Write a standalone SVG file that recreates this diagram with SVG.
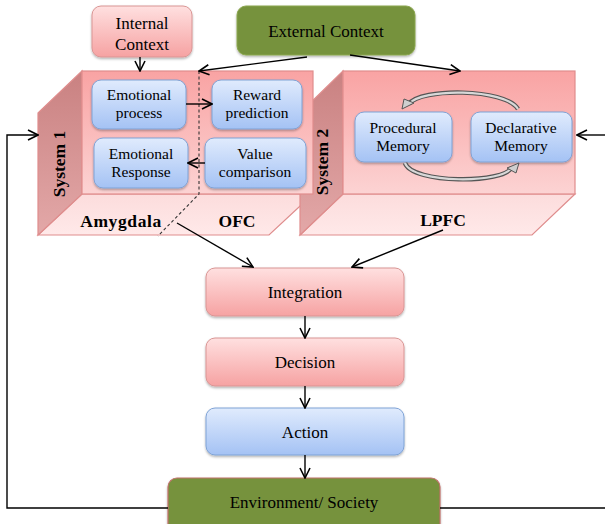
<svg xmlns="http://www.w3.org/2000/svg" width="605" height="524" viewBox="0 0 605 524" font-family="'Liberation Serif', 'DejaVu Serif', serif">
<defs>
  <linearGradient id="gPink" x1="0" y1="0" x2="0" y2="1">
    <stop offset="0" stop-color="#ffe0e0"/>
    <stop offset="1" stop-color="#f6a2a2"/>
  </linearGradient>
  <linearGradient id="gBlue" x1="0" y1="0" x2="0" y2="1">
    <stop offset="0" stop-color="#e0ebfd"/>
    <stop offset="1" stop-color="#a4c2f4"/>
  </linearGradient>
  <linearGradient id="gBack" x1="0" y1="0" x2="0" y2="1">
    <stop offset="0" stop-color="#f9a3a3"/>
    <stop offset="1" stop-color="#fcd3d3"/>
  </linearGradient>
  <linearGradient id="gWall" x1="0" y1="0" x2="0" y2="1">
    <stop offset="0" stop-color="#c98181"/>
    <stop offset="1" stop-color="#e3a8a8"/>
  </linearGradient>
  <linearGradient id="gFloor" x1="0" y1="0" x2="0" y2="1">
    <stop offset="0" stop-color="#fcdcdc"/>
    <stop offset="1" stop-color="#ffe9e9"/>
  </linearGradient>
  <filter id="sh" x="-10%" y="-10%" width="120%" height="130%">
    <feDropShadow dx="0" dy="1.5" stdDeviation="1.2" flood-color="#000" flood-opacity="0.3"/>
  </filter>
  <marker id="arr" viewBox="0 0 12 12" refX="11" refY="6" markerWidth="12" markerHeight="12" markerUnits="userSpaceOnUse" orient="auto">
    <path d="M1,1 L11,6 L1,11" fill="none" stroke="#000" stroke-width="1.6"/>
  </marker>
</defs>
<style>
  text { font-family: "Liberation Serif", "DejaVu Serif", serif; fill: #000; }
  .t { font-size: 17px; text-anchor: middle; }
  .s { font-size: 15.5px; text-anchor: middle; }
  .b { font-size: 17.5px; font-weight: bold; text-anchor: middle; }
  .pink { fill: url(#gPink); stroke: #d99594; stroke-width: 1; filter: url(#sh); }
  .blue { fill: url(#gBlue); stroke: #7fa3d6; stroke-width: 1; filter: url(#sh); }
  .green { fill: #76923c; filter: url(#sh); }
  .back { fill: url(#gBack); stroke: #df8d8d; stroke-width: 1.2; }
  .wall { fill: url(#gWall); stroke: #df8d8d; stroke-width: 1.2; }
  .floor { fill: url(#gFloor); stroke: #df8d8d; stroke-width: 1.2; }
  .c { fill: none; stroke: #000; stroke-width: 1.4; }
  .ca { fill: none; stroke: #000; stroke-width: 1.4; marker-end: url(#arr); }
</style>

<!-- System 1 floor and wall -->
<g id="system1-base">
  <polygon class="floor" points="82,194 313,194 269,235 38,235"/>
  <polygon class="wall" points="38,113 82,71 82,194 38,235"/>
  <text class="b" transform="translate(65,164) rotate(-90)">System 1</text>
</g>

<!-- System 2 -->
<g id="system2">
  <polygon class="floor" points="343,194 575,194 532,235 300,235"/>
  <polygon class="wall" points="300,113 343,71 343,194 300,235"/>
  <rect class="back" x="343" y="71" width="232" height="123"/>
  <text class="b" transform="translate(328,162) rotate(-90)">System 2</text>
  <text class="b" x="443" y="226">LPFC</text>
</g>

<!-- System 1 back wall -->
<g id="system1">
  <rect class="back" x="82" y="71" width="231" height="123"/>
  <text class="b" x="121" y="227" style="letter-spacing:0.6px">Amygdala</text>
  <text class="b" x="237" y="227">OFC</text>
</g>

<g id="emotional-process">
  <rect class="blue" x="92" y="80" width="94" height="49" rx="9"/>
  <text class="s" x="139" y="100">Emotional</text>
  <text class="s" x="139" y="118">process</text>
</g>
<g id="reward-prediction">
  <rect class="blue" x="212" y="80" width="90" height="49" rx="9"/>
  <text class="s" x="257" y="100">Reward</text>
  <text class="s" x="257" y="118">prediction</text>
</g>
<g id="emotional-response">
  <rect class="blue" x="94" y="138" width="94" height="50" rx="9"/>
  <text class="s" x="141" y="159">Emotional</text>
  <text class="s" x="141" y="177">Response</text>
</g>
<g id="value-comparison">
  <rect class="blue" x="205" y="138" width="101" height="50" rx="9"/>
  <text class="s" x="255" y="159">Value</text>
  <text class="s" x="255" y="177">comparison</text>
</g>

<g id="procedural-memory">
  <rect class="blue" x="355" y="112" width="97" height="50" rx="9"/>
  <text class="s" x="403" y="133">Procedural</text>
  <text class="s" x="403" y="151">Memory</text>
</g>
<g id="declarative-memory">
  <rect class="blue" x="471" y="112" width="101" height="50" rx="9"/>
  <text class="s" x="521" y="133">Declarative</text>
  <text class="s" x="521" y="151">Memory</text>
</g>

<g id="internal-context">
  <rect class="pink" x="92" y="6" width="100" height="51" rx="9"/>
  <text class="t" x="142" y="29">Internal</text>
  <text class="t" x="142" y="50">Context</text>
</g>
<g id="external-context">
  <rect class="green" x="237" y="6" width="178" height="49" rx="9" stroke="#8aa64e" stroke-width="1"/>
  <text class="t" x="326" y="37">External Context</text>
</g>

<g id="integration">
  <rect class="pink" x="206" y="268" width="198" height="48" rx="9"/>
  <text class="t" x="305" y="298">Integration</text>
</g>
<g id="decision">
  <rect class="pink" x="206" y="338" width="198" height="48" rx="9"/>
  <text class="t" x="305" y="368">Decision</text>
</g>
<g id="action">
  <rect class="blue" x="206" y="408" width="198" height="47" rx="9"/>
  <text class="t" x="305" y="438">Action</text>
</g>
<g id="environment">
  <rect class="green" x="168" y="478" width="272" height="56" rx="9" stroke="#c0706a" stroke-width="1.2"/>
  <text class="t" x="304" y="508">Environment/ Society</text>
</g>

<g id="connectors">
  <path d="M199,71 V194 L158,236" fill="none" stroke="#333" stroke-width="1.1" stroke-dasharray="3,2.5"/>
  <path class="ca" d="M140,57 V71"/>
  <path class="ca" d="M307,57 L199,71"/>
  <path class="ca" d="M350,55 L460,71"/>
  <path class="ca" d="M186,104 H212"/>
  <path class="ca" d="M205,163 H188"/>
  <path class="ca" d="M177,223 L253,267"/>
  <path class="ca" d="M443,230 L352,267"/>
  <path class="ca" d="M305,316 V338"/>
  <path class="ca" d="M305,386 V408"/>
  <path class="ca" d="M305,455 V478"/>
  <path class="ca" d="M168,508 H7 V135 H38"/>
  <path class="c" d="M440,508 H605"/>
  <path class="ca" d="M605,135 H577"/>
  <path d="M518,109 C505,88 420,88 409,104" fill="none" stroke="#555" stroke-width="4.5"/>
  <path d="M518,109 C505,88 420,88 409,104" fill="none" stroke="#d8d8d8" stroke-width="2.2"/>
  <polygon points="402,109 404,99 414,103" fill="#cfcfcf" stroke="#555" stroke-width="1"/>
  <path d="M405,163 C412,184 505,184 512,167" fill="none" stroke="#555" stroke-width="4.5"/>
  <path d="M405,163 C412,184 505,184 512,167" fill="none" stroke="#d8d8d8" stroke-width="2.2"/>
  <polygon points="519,163 516,173 507,168" fill="#cfcfcf" stroke="#555" stroke-width="1"/>
</g>
</svg>
